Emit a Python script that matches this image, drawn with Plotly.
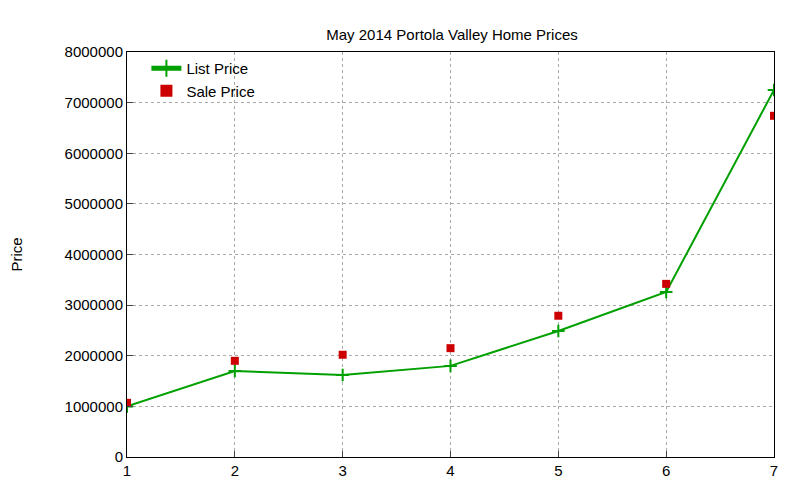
import plotly.graph_objects as go

x = [1, 2, 3, 4, 5, 6, 7]
list_price = [1000000, 1700000, 1620000, 1800000, 2490000, 3260000, 7250000]
sale_price = [1070000, 1900000, 2020000, 2150000, 2790000, 3420000, 6740000]

fig = go.Figure()
fig.add_trace(go.Scatter(x=x, y=list_price, mode="lines+markers", name="List Price",
                         line=dict(color="#00a000", width=2),
                         marker=dict(symbol="cross-thin", size=9, line=dict(color="#00a000", width=2))))
fig.add_trace(go.Scatter(x=x, y=sale_price, mode="markers", name="Sale Price",
                         marker=dict(symbol="square", size=8, color="#cc0000")))

ax = dict(showline=True, linecolor="black", mirror=True, ticks="inside", ticklen=6,
          showgrid=True, gridcolor="#aaa", griddash="dot", gridwidth=1, zeroline=False,
          automargin=False, tickfont=dict(size=15, color="black"))
fig.update_layout(
    width=800, height=480, plot_bgcolor="white", paper_bgcolor="white",
    font=dict(family="Liberation Sans, Arial", color="black"),
    margin=dict(l=119, r=34, t=44, b=31, autoexpand=False),
    title=dict(text="May 2014 Portola Valley Home Prices", x=0.555, y=0.955, xanchor="center",
               font=dict(size=15)),
    xaxis=dict(range=[1, 7], dtick=1, **ax),
    yaxis=dict(range=[0, 8000000], dtick=1000000, tickformat="d",
               title=dict(text="Price", font=dict(size=15), standoff=40), **ax),
    legend=dict(x=0.03, y=1.0, xanchor="left", yanchor="top", bgcolor="rgba(0,0,0,0)",
                font=dict(size=15), tracegroupgap=0, itemsizing="constant"),
    showlegend=True,
)
fig.write_html("out.html")
